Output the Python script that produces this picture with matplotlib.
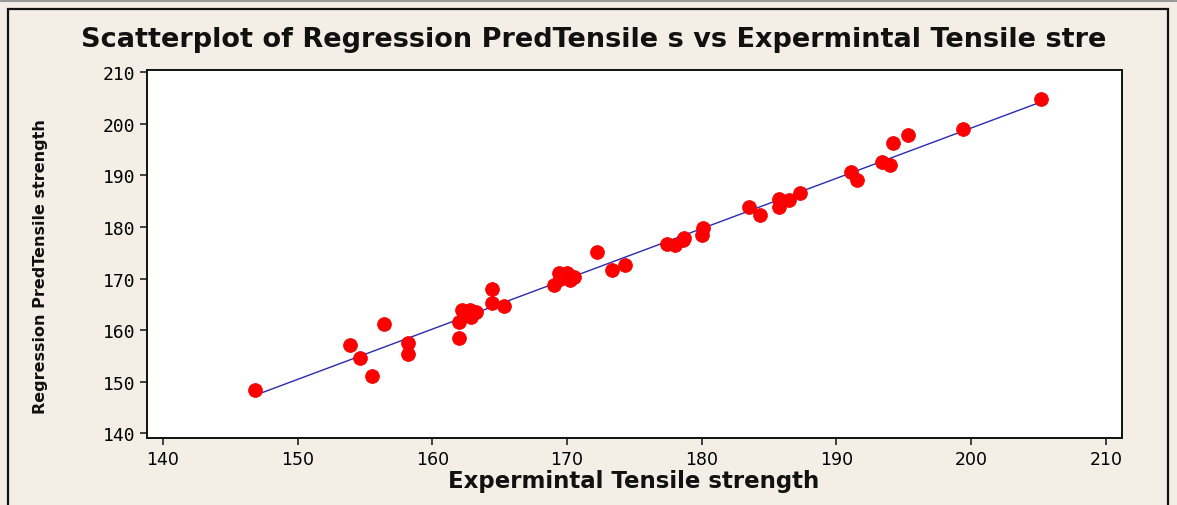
import numpy as np
import matplotlib
matplotlib.use("Agg")
from matplotlib import pyplot as plt
from matplotlib.patches import Rectangle

# data
exp_strength = [146.8, 153.9, 154.6, 155.5, 156.4, 158.2, 158.2, 162.0, 162.0, 162.2,
                162.8, 162.9, 163.2, 164.4, 164.4, 165.3, 169.0, 169.4, 170.0, 169.5,
                170.2, 170.5, 172.2, 173.3, 174.3, 177.4, 178.0, 178.6, 178.7, 180.0,
                180.1, 183.5, 184.3, 185.7, 185.7, 186.5, 187.3, 191.1, 191.5, 193.4,
                194.0, 194.2, 195.3, 199.4, 205.2]
pred_strength = [148.4, 157.1, 154.6, 151.2, 161.2, 157.6, 155.4, 161.6, 158.4, 164.0,
                 164.0, 162.5, 163.5, 168.0, 165.3, 164.6, 168.7, 171.1, 171.0, 169.9,
                 169.8, 170.4, 175.2, 171.6, 172.6, 176.8, 176.6, 177.4, 177.9, 178.5,
                 179.8, 183.8, 182.3, 185.4, 183.8, 185.2, 186.6, 190.7, 189.2, 192.6,
                 192.0, 196.3, 197.8, 199.1, 204.8]
ticks = [140, 150, 160, 170, 180, 190, 200, 210]

bg = "#f3efe6"
fig = plt.figure(figsize=(11.77, 5.06), dpi=100, facecolor=bg)
ax = fig.add_axes([0.1249, 0.1324, 0.8284, 0.7273])
ax.set_facecolor("white")

# regression fit line
x = np.array(exp_strength)
y = np.array(pred_strength)
b, a = np.polyfit(x, y, 1)
xl = np.array([x.min(), x.max()])
ax.plot(xl, a + b * xl, color="#2a2ab0", lw=1.0, zorder=2)

ax.scatter(x, y, s=100, color="#ff0000", edgecolors="#ee0000", linewidths=0.5, zorder=3)

ax.set_xlim(138.81, 211.2)
ax.set_ylim(139.09, 210.45)
ax.set_xticks(ticks)
ax.set_yticks(ticks)
ax.tick_params(direction="out", length=5, width=1.2, color="#222222")
for lab in ax.get_xticklabels():
    lab.set_fontsize(12.5)
    lab.set_family("DejaVu Sans")
for lab in ax.get_yticklabels():
    lab.set_fontsize(13)
    lab.set_family("DejaVu Sans Mono")
for sp in ax.spines.values():
    sp.set_linewidth(1.4)
    sp.set_color("#111111")

fig.text(0.504, 0.921, "Scatterplot of Regression PredTensile s vs Expermintal Tensile stre",
         ha="center", va="center", fontsize=19.5, fontweight="bold", color="#111111")
fig.text(0.538, 0.049, "Expermintal Tensile strength", ha="center", va="center",
         fontsize=16.5, fontweight="bold", color="#111111")
fig.text(0.034, 0.474, "Regression PredTensile strength", ha="center", va="center",
         rotation=90, fontsize=11.5, fontweight="bold", color="#111111")

# outer frame
fig.patches.append(Rectangle((0.007, -0.01), 0.985, 0.99, transform=fig.transFigure,
                             fill=False, lw=1.6, edgecolor="#111111"))
fig.lines.append(plt.Line2D([0, 1], [0.996, 0.996], transform=fig.transFigure,
                            color="#999999", lw=1.5))

fig.savefig("out.png", dpi=100, facecolor=bg)
